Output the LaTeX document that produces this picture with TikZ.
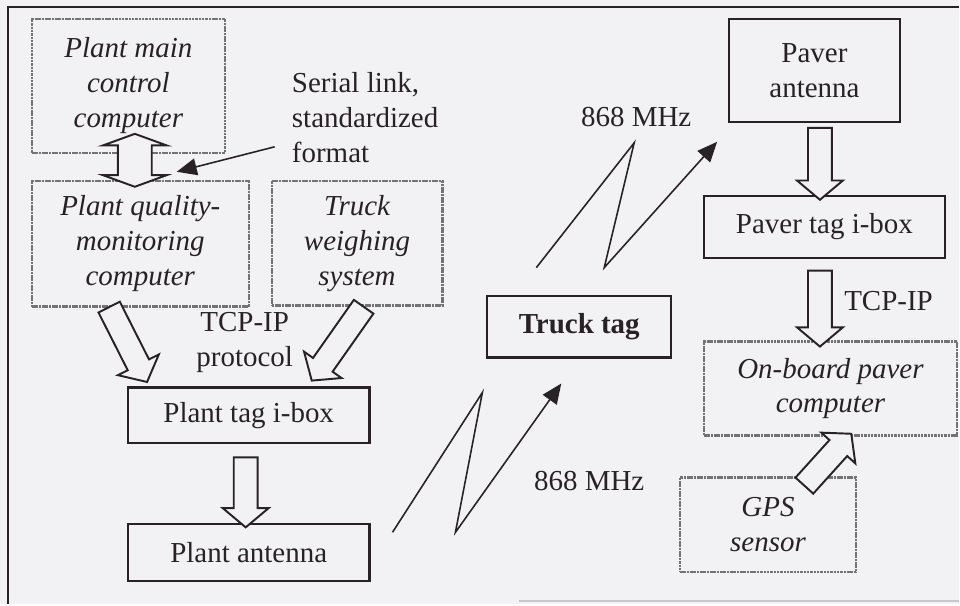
\documentclass[tikz,border=0pt]{standalone}
\usepackage{fontspec}
\setmainfont{Liberation Serif}
\usetikzlibrary{calc,arrows.meta,shapes.arrows}
\definecolor{paper}{RGB}{242,242,244}
\definecolor{ink}{RGB}{40,34,38}
\newcommand{\diagfont}{\fontsize{16.5}{19.9}\selectfont}
\tikzstyle{box}=[draw=ink, line width=1.2pt, inner sep=0, align=center, text=ink, font=\diagfont]
\tikzstyle{graybox}=[draw=black!55, line width=1.3pt, dash pattern=on 1.5pt off 0.4pt, inner sep=0, align=center, text=ink, font=\diagfont\itshape]
\tikzstyle{lbl}=[inner sep=0, align=center, text=ink, font=\diagfont]
\tikzstyle{fatarr}=[single arrow, draw=ink, line width=1.1pt, fill=paper, inner xsep=0, inner ysep=0.22cm, minimum width=0.88cm, single arrow head extend=0.22cm, single arrow tip angle=100, single arrow head indent=0]
\tikzstyle{dblarr}=[double arrow, draw=ink, line width=1.1pt, fill=paper, inner xsep=0, inner ysep=0.32cm, minimum width=1.24cm, double arrow head extend=0.30cm, double arrow tip angle=140, double arrow head indent=0]
\tikzstyle{zig}=[draw=ink, line width=0.9pt, -{Triangle[length=0.4cm,width=0.34cm]}]
\newcommand{\fatarrow}[2]{\path let \p1=($(#2)-(#1)$), \n1={veclen(\x1,\y1)} in (#1) -- (#2) node[midway, sloped, allow upside down, fatarr, minimum height=\n1] {};}

\begin{document}
\begin{tikzpicture}
\fill[paper] (0,0) rectangle (19.2,-12.1);
\draw[ink, line width=1.4pt] (19.2,-0.14) -- (0.16,-0.14) -- (0.16,-12.1);
\draw[black!22, line width=1pt] (10.4,-12.04) -- (19.2,-12.04);

\node[graybox, minimum width=3.86cm, minimum height=2.68cm] (mainpc) at (2.57,-1.72) {Plant main\\control\\computer};
\node[graybox, minimum width=4.34cm, minimum height=2.52cm] (qualpc) at (2.81,-4.88) {Plant quality-\\monitoring\\computer};
\node[graybox, minimum width=3.42cm, minimum height=2.50cm] (weigh) at (7.15,-4.87) {Truck\\weighing\\system};
\node[box, minimum width=4.84cm, minimum height=1.12cm] (plantibox) at (4.98,-8.32) {Plant tag i-box};
\node[box, minimum width=4.84cm, minimum height=1.14cm] (plantant) at (4.98,-11.07) {Plant antenna};
\node[box, minimum width=3.68cm, minimum height=1.24cm, font=\diagfont\bfseries] (trucktag) at (11.60,-6.54) {Truck tag};
\node[box, minimum width=3.42cm, minimum height=2.06cm] (paverant) at (16.31,-1.41) {Paver\\antenna};
\node[box, minimum width=4.82cm, minimum height=1.24cm] (paveribox) at (16.51,-4.54) {Paver tag i-box};
\node[graybox, minimum width=5.06cm, minimum height=1.88cm] (onboard) at (16.63,-7.78) {On-board paver\\computer};
\node[graybox, minimum width=3.52cm, minimum height=1.90cm] (gps) at (15.38,-10.51) {GPS\\sensor};

\node[lbl, align=left, anchor=west] (serial) at (5.84,-2.36) {Serial link,\\standardized\\format};
\node[lbl] (tcpleft) at (4.90,-6.86) {TCP-IP\\protocol};
\node[lbl] (mhzup) at (12.74,-2.34) {868 MHz};
\node[lbl] (mhzlow) at (11.80,-9.64) {868 MHz};
\node[lbl, anchor=west] (tcpright) at (16.90,-6.02) {TCP-IP};

\coordinate (dbot) at (2.70,-3.74);
\coordinate (dtop) at (2.70,-2.68);
\coordinate (sltail) at (5.50,-2.94);
\coordinate (sltip) at (3.54,-3.44);
\coordinate (qt) at (2.14,-6.06);
\coordinate (qh) at (2.90,-7.56);
\coordinate (wt) at (7.34,-6.06);
\coordinate (wh) at (6.30,-7.54);
\coordinate (it) at (4.92,-9.06);
\coordinate (ih) at (4.92,-10.46);
\coordinate (at) at (16.42,-2.46);
\coordinate (ah) at (16.42,-3.90);
\coordinate (bt) at (16.42,-5.32);
\coordinate (bh) at (16.42,-6.84);
\coordinate (gt) at (16.04,-9.80);
\coordinate (gh) at (16.98,-8.76);
\coordinate (l1) at (7.86,-10.66);
\coordinate (l2) at (9.66,-7.86);
\coordinate (l3) at (9.12,-10.66);
\coordinate (l4) at (11.24,-7.68);
\coordinate (u1) at (10.74,-5.36);
\coordinate (u2) at (12.70,-2.86);
\coordinate (u3) at (12.10,-5.36);
\coordinate (u4) at (14.36,-2.84);

\node[dblarr, minimum height=1.06cm, rotate=90] (link) at ($(dbot)!0.5!(dtop)$) {};
\draw[zig] (sltail) -- (sltip);
\foreach \a/\b in {qt/qh,wt/wh,it/ih,at/ah,bt/bh,gt/gh}
{
\fatarrow{\a}{\b}
}
\foreach \p in {l,u}
{
\draw[zig] (\p1) -- (\p2) -- (\p3) -- (\p4);
}
\end{tikzpicture}
\end{document}
